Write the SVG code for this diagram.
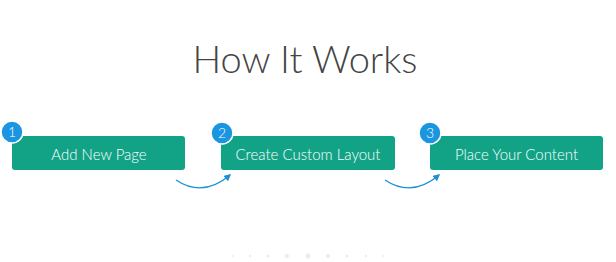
<svg xmlns="http://www.w3.org/2000/svg" width="616" height="262" viewBox="0 0 616 262">
<defs>
<style>
.title{font-family:Lato,"Open Sans","Liberation Sans",sans-serif;font-weight:300;font-size:38px;fill:#444}
.box{fill:#12a386}
.lbl{font-family:Lato,"Open Sans","Liberation Sans",sans-serif;font-weight:300;font-size:15px;fill:#fff;text-anchor:middle}
.badge{fill:#1b95e0;stroke:#fff;stroke-width:1.5}
.num{font-family:Lato,"Liberation Sans",sans-serif;font-weight:300;font-size:14px;fill:#fff;text-anchor:middle}
.conn{fill:none;stroke:#1b8fd8;stroke-width:1.3}
.dot{fill:#ececec}
</style>
<marker id="ah" viewBox="0 0 10 10" refX="8" refY="5" markerWidth="7" markerHeight="7" orient="auto-start-reverse" markerUnits="userSpaceOnUse">
<path d="M0,0 L10,5 L0,10 z" fill="#1b8fd8"/>
</marker>
</defs>
<rect width="616" height="262" fill="#fff"/>
<text class="title" x="305" y="73" text-anchor="middle">How It Works</text>
<g id="step1">
<rect class="box" x="12" y="136" width="173" height="34" rx="3"/>
<text class="lbl" x="99" y="159.5">Add New Page</text>
<circle class="badge" cx="12" cy="132" r="11"/>
<text class="num" x="12" y="137">1</text>
</g>
<g id="step2">
<rect class="box" x="221" y="136" width="174" height="34" rx="3"/>
<text class="lbl" x="308" y="159.5">Create Custom Layout</text>
<circle class="badge" cx="222" cy="133" r="11"/>
<text class="num" x="222" y="138">2</text>
</g>
<g id="step3">
<rect class="box" x="430" y="136" width="173" height="34" rx="3"/>
<text class="lbl" x="516.5" y="159.5">Place Your Content</text>
<circle class="badge" cx="430" cy="133" r="11"/>
<text class="num" x="430" y="138">3</text>
</g>
<g id="connectors">
<path class="conn" d="M176,180 Q203,198 230,175" marker-end="url(#ah)"/>
<path class="conn" d="M385,180 Q412,198 439,175" marker-end="url(#ah)"/>
</g>
<g id="dots">
<circle class="dot" cx="233" cy="256" r="1"/>
<circle class="dot" cx="250" cy="256" r="1.2"/>
<circle class="dot" cx="268" cy="256" r="1.5"/>
<circle class="dot" cx="287" cy="256" r="2"/>
<circle class="dot" cx="308" cy="256" r="2.5"/>
<circle class="dot" cx="328" cy="256" r="2"/>
<circle class="dot" cx="347" cy="256" r="1.5"/>
<circle class="dot" cx="366" cy="256" r="1.2"/>
<circle class="dot" cx="383" cy="256" r="1"/>
</g>
</svg>
